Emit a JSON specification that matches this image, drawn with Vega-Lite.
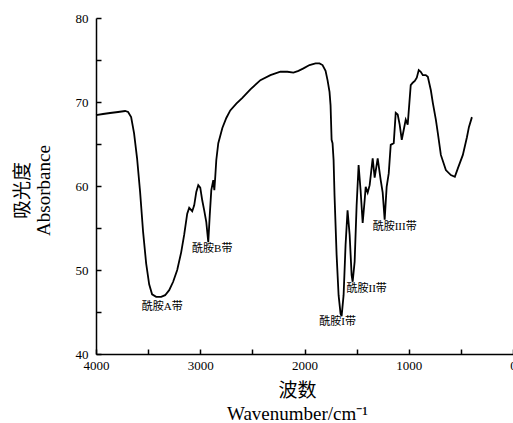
{
  "$schema": "https://vega.github.io/schema/vega-lite/v6.json",
  "width": 417,
  "height": 336,
  "autosize": {"type": "none"},
  "padding": {"left": 96, "top": 18, "right": 0, "bottom": 69},
  "background": "white",
  "config": {
    "view": {"stroke": null},
    "axis": {
      "grid": false,
      "domainColor": "black",
      "domainWidth": 1.5,
      "tickColor": "black",
      "tickWidth": 1.5,
      "tickSize": -5,
      "labelFont": "Liberation Serif",
      "labelFontSize": 13,
      "labelColor": "black",
      "titleFont": "Liberation Serif, Noto Sans CJK SC",
      "titleFontSize": 19,
      "titleFontWeight": "normal",
      "titleColor": "black"
    }
  },
  "datasets": {
    "spectrum": [
      {"w": 4000, "a": 68.45}, {"w": 3933, "a": 68.57}, {"w": 3865, "a": 68.69}, {"w": 3788, "a": 68.81},
      {"w": 3721, "a": 68.93}, {"w": 3692, "a": 68.81}, {"w": 3663, "a": 68.2}, {"w": 3635, "a": 66.3},
      {"w": 3606, "a": 63.3}, {"w": 3577, "a": 59.3}, {"w": 3548, "a": 54.5}, {"w": 3519, "a": 50.8},
      {"w": 3490, "a": 48.3}, {"w": 3462, "a": 47.1}, {"w": 3423, "a": 46.8}, {"w": 3375, "a": 46.8},
      {"w": 3337, "a": 47.0}, {"w": 3298, "a": 47.6}, {"w": 3260, "a": 48.6}, {"w": 3221, "a": 50.0},
      {"w": 3183, "a": 52.1}, {"w": 3154, "a": 54.2}, {"w": 3125, "a": 56.7}, {"w": 3106, "a": 57.4},
      {"w": 3077, "a": 57.0}, {"w": 3058, "a": 57.7}, {"w": 3038, "a": 59.3}, {"w": 3019, "a": 60.1},
      {"w": 3000, "a": 59.8}, {"w": 2981, "a": 58.3}, {"w": 2962, "a": 57.1}, {"w": 2942, "a": 55.7},
      {"w": 2923, "a": 53.3}, {"w": 2909, "a": 56.5}, {"w": 2894, "a": 59.5}, {"w": 2875, "a": 60.7},
      {"w": 2865, "a": 59.5}, {"w": 2856, "a": 61.1}, {"w": 2846, "a": 63.1}, {"w": 2827, "a": 65.1},
      {"w": 2788, "a": 66.9}, {"w": 2750, "a": 68.1}, {"w": 2712, "a": 69.0}, {"w": 2654, "a": 69.8},
      {"w": 2596, "a": 70.5}, {"w": 2519, "a": 71.5}, {"w": 2423, "a": 72.6}, {"w": 2327, "a": 73.2},
      {"w": 2231, "a": 73.6}, {"w": 2164, "a": 73.6}, {"w": 2106, "a": 73.5}, {"w": 2058, "a": 73.7},
      {"w": 2010, "a": 74.0}, {"w": 1952, "a": 74.4}, {"w": 1894, "a": 74.6}, {"w": 1856, "a": 74.6},
      {"w": 1827, "a": 74.4}, {"w": 1798, "a": 73.7}, {"w": 1779, "a": 72.6}, {"w": 1760, "a": 71.2},
      {"w": 1750, "a": 69.6}, {"w": 1740, "a": 65.5}, {"w": 1731, "a": 65.1}, {"w": 1721, "a": 63.1},
      {"w": 1712, "a": 58.9}, {"w": 1692, "a": 51.8}, {"w": 1673, "a": 47.0}, {"w": 1654, "a": 44.8},
      {"w": 1644, "a": 44.5}, {"w": 1625, "a": 47.0}, {"w": 1606, "a": 53.0}, {"w": 1587, "a": 57.1},
      {"w": 1567, "a": 54.2}, {"w": 1548, "a": 49.4}, {"w": 1538, "a": 48.6}, {"w": 1519, "a": 51.0},
      {"w": 1500, "a": 57.7}, {"w": 1481, "a": 62.5}, {"w": 1462, "a": 59.5}, {"w": 1442, "a": 55.6},
      {"w": 1423, "a": 58.3}, {"w": 1413, "a": 59.9}, {"w": 1394, "a": 59.2}, {"w": 1375, "a": 60.1},
      {"w": 1346, "a": 63.3}, {"w": 1327, "a": 61.0}, {"w": 1298, "a": 63.3}, {"w": 1269, "a": 60.7},
      {"w": 1250, "a": 59.2}, {"w": 1231, "a": 56.0}, {"w": 1212, "a": 59.9}, {"w": 1192, "a": 61.5},
      {"w": 1173, "a": 64.9}, {"w": 1144, "a": 65.1}, {"w": 1125, "a": 68.7}, {"w": 1106, "a": 68.5},
      {"w": 1087, "a": 67.3}, {"w": 1067, "a": 65.5}, {"w": 1048, "a": 66.7}, {"w": 1029, "a": 67.9},
      {"w": 1010, "a": 67.3}, {"w": 981, "a": 72.0}, {"w": 962, "a": 72.3}, {"w": 942, "a": 72.5},
      {"w": 923, "a": 72.9}, {"w": 904, "a": 73.8}, {"w": 885, "a": 73.6}, {"w": 865, "a": 73.2},
      {"w": 837, "a": 73.2}, {"w": 817, "a": 73.0}, {"w": 788, "a": 71.4}, {"w": 769, "a": 69.9},
      {"w": 740, "a": 67.9}, {"w": 721, "a": 66.3}, {"w": 692, "a": 63.7}, {"w": 644, "a": 61.9},
      {"w": 596, "a": 61.3}, {"w": 558, "a": 61.1}, {"w": 529, "a": 62.1}, {"w": 481, "a": 63.7},
      {"w": 442, "a": 65.8}, {"w": 423, "a": 67.0}, {"w": 394, "a": 68.2}
    ],
    "labels": [
      {"w": 3365, "a": 45.6, "text": "酰胺A带"},
      {"w": 2885, "a": 52.5, "text": "酰胺B带"},
      {"w": 1683, "a": 43.8, "text": "酰胺I带"},
      {"w": 1404, "a": 47.7, "text": "酰胺II带"},
      {"w": 1135, "a": 55.1, "text": "酰胺III带"}
    ]
  },
  "layer": [
    {
      "data": {"name": "spectrum"},
      "mark": {"type": "line", "color": "black", "strokeWidth": 1.8, "interpolate": "linear"},
      "encoding": {
        "x": {
          "field": "w", "type": "quantitative",
          "scale": {"domain": [0, 4000], "reverse": true, "nice": false},
          "axis": {
            "values": [0, 500, 1000, 1500, 2000, 2500, 3000, 3500, 4000],
            "labelExpr": "datum.value % 1000 == 0 ? datum.label : ''",
            "format": "d",
            "labelPadding": 10,
            "labelFlush": false,
            "labelOverlap": false,
            "title": ["波数", "Wavenumber/cm⁻¹"],
            "titleLineHeight": 23,
            "titleX": 201,
            "titleY": 36,
            "titleAlign": "center",
            "titleBaseline": "middle",
            "titleAnchor": null
          }
        },
        "y": {
          "field": "a", "type": "quantitative",
          "scale": {"domain": [40, 80], "nice": false, "zero": false},
          "axis": {
            "values": [40, 45, 50, 55, 60, 65, 70, 75, 80],
            "labelExpr": "datum.value % 10 == 0 ? datum.label : ''",
            "labelPadding": 13,
            "labelFlush": false,
            "labelOverlap": false,
            "title": ["吸光度", "Absorbance"],
            "titleLineHeight": 21,
            "titleAngle": 270,
            "titleX": -74,
            "titleY": 172,
            "titleAlign": "center",
            "titleBaseline": "middle",
            "titleAnchor": null
          }
        }
      }
    },
    {
      "data": {"name": "labels"},
      "mark": {"type": "text", "font": "Liberation Serif, Noto Sans CJK SC", "fontSize": 11, "color": "black", "align": "center", "baseline": "middle"},
      "encoding": {
        "x": {"field": "w", "type": "quantitative"},
        "y": {"field": "a", "type": "quantitative"},
        "text": {"field": "text"}
      }
    }
  ]
}
